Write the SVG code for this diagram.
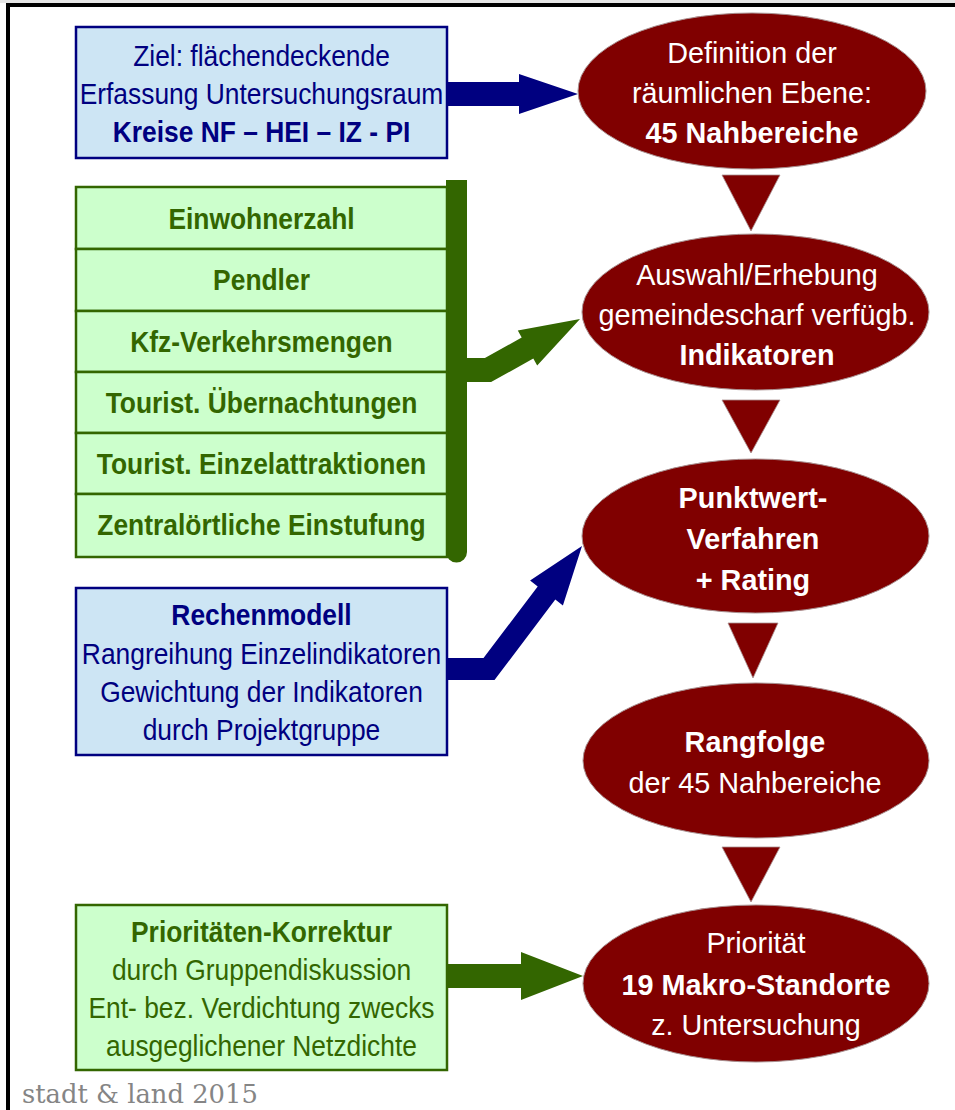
<svg xmlns="http://www.w3.org/2000/svg" width="955" height="1110" viewBox="0 0 955 1110">
<defs>
<style>
.t{font-family:"Liberation Sans",Arial,sans-serif;text-anchor:middle}
.b{font-weight:bold}
.blue{fill:#cde5f4;stroke:#000080;stroke-width:2.5}
.green{fill:#ccffcc;stroke:#336600;stroke-width:2.5}
.nv{fill:#000080;font-size:29px}
.gr{fill:#336600;font-size:29px}
.ell{fill:#800000;stroke:#a89090;stroke-width:1}
.wt{fill:#ffffff;font-size:28.8px}
.tri{fill:#800000;stroke:#a89090;stroke-width:0.8}
</style>
</defs>
<rect x="0" y="0" width="955" height="1110" fill="#ffffff"/>
<rect x="0" y="0" width="955" height="3" fill="#e6e6e6"/>
<rect x="6" y="3" width="949" height="4" fill="#000000"/>
<rect x="6" y="3" width="4" height="1107" fill="#000000"/>

<g id="connectors">
<polygon fill="#000080" points="447,82 519,82 519,74 578,94 519,114 519,106 447,106"/>
<path fill="#336600" d="M446,180 H467 V552 A10.5,10.5 0 0 1 446,552 Z"/>
<polygon fill="#336600" points="460,358 484.9,358 521.7,337.6 517.8,330.6 580,319 537.2,365.6 533.3,358.6 491.1,382 460,382"/>
<polygon fill="#000080" points="447,658 483.5,658 537.7,586.4 530.1,580.6 582,546 562.9,605.4 555.3,599.6 494.5,680 447,680"/>
<polygon fill="#336600" points="447,964 521,964 521,952 583,976 521,1000 521,988 447,988"/>
<polygon class="tri" points="722,175 780,175 751,231"/>
<polygon class="tri" points="722,400 780,400 751,453"/>
<polygon class="tri" points="728,623 778,623 753,678"/>
<polygon class="tri" points="722,847 780,847 751,902"/>
</g>

<g id="box-ziel">
<rect class="blue" x="76" y="27" width="371" height="131"/>
<g transform="translate(261.5 0) scale(0.91 1)">
<text class="t nv" x="0" y="66">Ziel: flächendeckende</text>
<text class="t nv" x="0" y="104">Erfassung Untersuchungsraum</text>
<text class="t nv b" x="0" y="142">Kreise NF – HEI – IZ - PI</text>
</g>
</g>

<g id="box-indikatoren">
<rect class="green" x="76" y="187" width="371" height="62"/>
<rect class="green" x="76" y="249" width="371" height="62"/>
<rect class="green" x="76" y="311" width="371" height="61"/>
<rect class="green" x="76" y="372" width="371" height="61"/>
<rect class="green" x="76" y="433" width="371" height="61"/>
<rect class="green" x="76" y="494" width="371" height="63"/>
<g transform="translate(261.5 0) scale(0.91 1)">
<text class="t gr b" x="0" y="229">Einwohnerzahl</text>
<text class="t gr b" x="0" y="290">Pendler</text>
<text class="t gr b" x="0" y="352">Kfz-Verkehrsmengen</text>
<text class="t gr b" x="0" y="413">Tourist. Übernachtungen</text>
<text class="t gr b" x="0" y="474">Tourist. Einzelattraktionen</text>
<text class="t gr b" x="0" y="535">Zentralörtliche Einstufung</text>
</g>
</g>

<g id="box-rechenmodell">
<rect class="blue" x="76" y="588" width="371" height="167"/>
<g transform="translate(261.5 0) scale(0.91 1)">
<text class="t nv b" x="0" y="625">Rechenmodell</text>
<text class="t nv" x="0" y="664">Rangreihung Einzelindikatoren</text>
<text class="t nv" x="0" y="702">Gewichtung der Indikatoren</text>
<text class="t nv" x="0" y="740">durch Projektgruppe</text>
</g>
</g>

<g id="box-korrektur">
<rect class="green" x="76" y="905" width="371" height="165"/>
<g transform="translate(261.5 0) scale(0.91 1)">
<text class="t gr b" x="0" y="942">Prioritäten-Korrektur</text>
<text class="t gr" x="0" y="980">durch Gruppendiskussion</text>
<text class="t gr" x="0" y="1018">Ent- bez. Verdichtung zwecks</text>
<text class="t gr" x="0" y="1056">ausgeglichener Netzdichte</text>
</g>
</g>

<g id="ell-definition">
<ellipse class="ell" cx="752" cy="91" rx="174" ry="78"/>
<text class="t wt" x="752" y="63">Definition der</text>
<text class="t wt" x="752" y="103">räumlichen Ebene:</text>
<text class="t wt b" x="752" y="143">45 Nahbereiche</text>
</g>

<g id="ell-auswahl">
<ellipse class="ell" cx="755.5" cy="312" rx="173.5" ry="78"/>
<text class="t wt" x="757" y="285">Auswahl/Erhebung</text>
<text class="t wt" x="757" y="325">gemeindescharf verfügb.</text>
<text class="t wt b" x="757" y="365">Indikatoren</text>
</g>

<g id="ell-punktwert">
<ellipse class="ell" cx="755.5" cy="536" rx="173.5" ry="77"/>
<text class="t wt b" x="753" y="508">Punktwert-</text>
<text class="t wt b" x="753" y="549">Verfahren</text>
<text class="t wt b" x="753" y="590">+ Rating</text>
</g>

<g id="ell-rangfolge">
<ellipse class="ell" cx="756" cy="760.5" rx="173" ry="77.5"/>
<text class="t wt b" x="755" y="752">Rangfolge</text>
<text class="t wt" x="755" y="793">der 45 Nahbereiche</text>
</g>

<g id="ell-prioritaet">
<ellipse class="ell" cx="756" cy="983.5" rx="173" ry="78.5"/>
<text class="t wt" x="756" y="953">Priorität</text>
<text class="t wt b" x="756" y="995">19 Makro-Standorte</text>
<text class="t wt" x="756" y="1035">z. Untersuchung</text>
</g>

<text x="22" y="1103" font-family="'DejaVu Serif',serif" font-size="25.8" fill="#858585">stadt &amp; land 2015</text>
</svg>
